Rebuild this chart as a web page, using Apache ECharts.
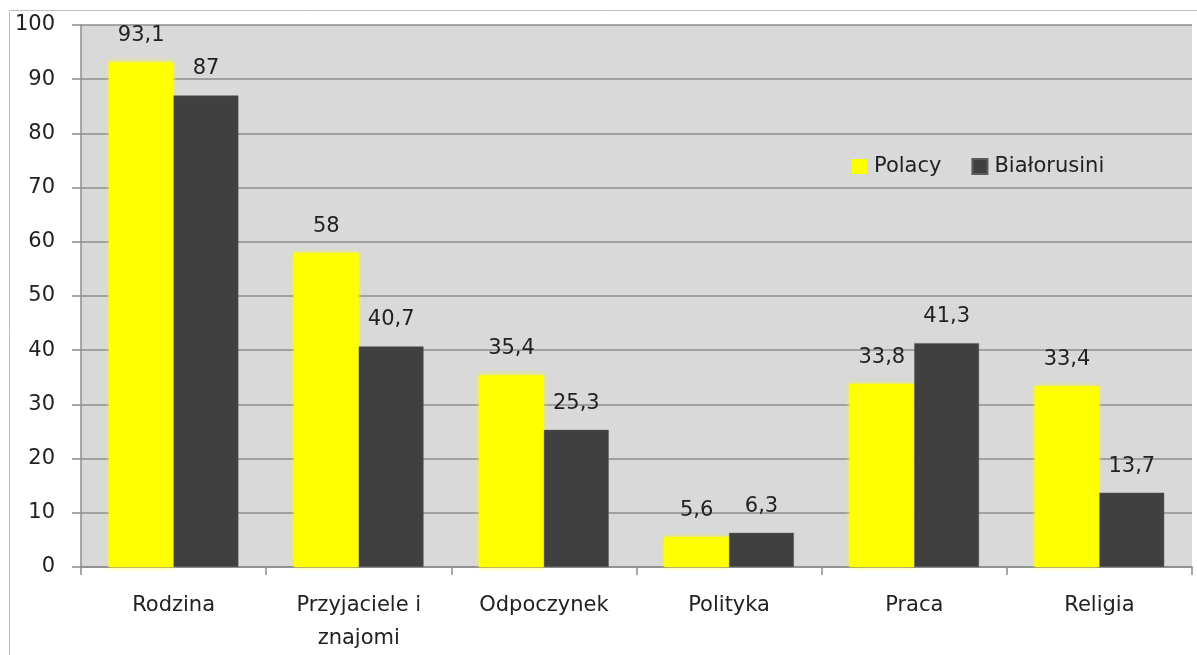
<!DOCTYPE html>
<html>
<head>
<meta charset="utf-8">
<script src="https://cdn.jsdelivr.net/npm/echarts@6/dist/echarts.min.js"></script>
<style>
  html, body { margin: 0; padding: 0; background: #fff; }
  #chart { width: 1197px; height: 655px; }
</style>
</head>
<body>
<div id="chart"></div>
<script>
// Wartości.
const categories = ["Rodzina", "Przyjaciele i\nznajomi", "Odpoczynek", "Polityka", "Praca", "Religia"];
const polacy = [93.1, 58, 35.4, 5.6, 33.8, 33.4];
const bialorusini = [87, 40.7, 25.3, 6.3, 41.3, 13.7];

const FONT = "DejaVu Sans";
const TEXT = "#222";

function fmt(v) {
  return String(v).replace(".", ",");
}

const chart = echarts.init(document.getElementById("chart"));

const labelStyle = {
  show: true,
  position: "top",
  distance: 16,
  color: TEXT,
  fontFamily: FONT,
  fontSize: 21,
  formatter: (p) => fmt(p.value),
};

chart.setOption({
  backgroundColor: "#fff",
  animation: false,
  graphic: [{
    type: "rect",
    shape: { x: 9.5, y: 10.5, width: 1300, height: 800 },
    style: { fill: "none", stroke: "#bfbfbf", lineWidth: 1 },
    z: -10,
  }],
  legend: {
    left: 852,
    top: 156,
    padding: 0,
    itemWidth: 15,
    itemHeight: 15,
    itemGap: 30,
    icon: "rect",
    textStyle: { color: TEXT, fontFamily: FONT, fontSize: 21, padding: [0, 0, 0, 2] },
    data: ["Polacy", "Białorusini"],
  },
  grid: {
    left: 81, right: 5, top: 25, bottom: 87,
    show: true,
    backgroundColor: "#d9d9d9",
    borderWidth: 0,
  },
  xAxis: {
    type: "category",
    data: categories,
    axisLine: { lineStyle: { color: "#8c8c8c", width: 1.5 } },
    axisTick: { show: true, length: 8, lineStyle: { color: "#8c8c8c", width: 1.5 } },
    axisLabel: {
      color: TEXT, fontFamily: FONT, fontSize: 21, margin: 22, lineHeight: 33,
    },
  },
  yAxis: {
    type: "value",
    min: 0, max: 100, interval: 10,
    axisLine: { show: true, lineStyle: { color: "#8c8c8c", width: 1.5 } },
    axisTick: { show: true, length: 9, lineStyle: { color: "#8c8c8c", width: 1.5 } },
    axisLabel: { color: TEXT, fontFamily: FONT, fontSize: 21, margin: 26 },
    splitLine: { lineStyle: { color: "#8c8c8c", width: 1.5 } },
  },
  series: [
    {
      name: "Polacy",
      type: "bar",
      data: polacy,
      barGap: "0%",
      barCategoryGap: "30%",
      itemStyle: { color: "#ffff00", shadowBlur: 5, shadowColor: "rgba(255,255,0,0.9)" },
      label: labelStyle,
    },
    {
      name: "Białorusini",
      type: "bar",
      data: bialorusini,
      barGap: "0%",
      barCategoryGap: "30%",
      itemStyle: { color: "#404040", borderColor: "#5a5a5a", borderWidth: 0.5 },
      label: labelStyle,
    },
  ],
});

window.addEventListener("resize", () => chart.resize());
</script>
</body>
</html>
